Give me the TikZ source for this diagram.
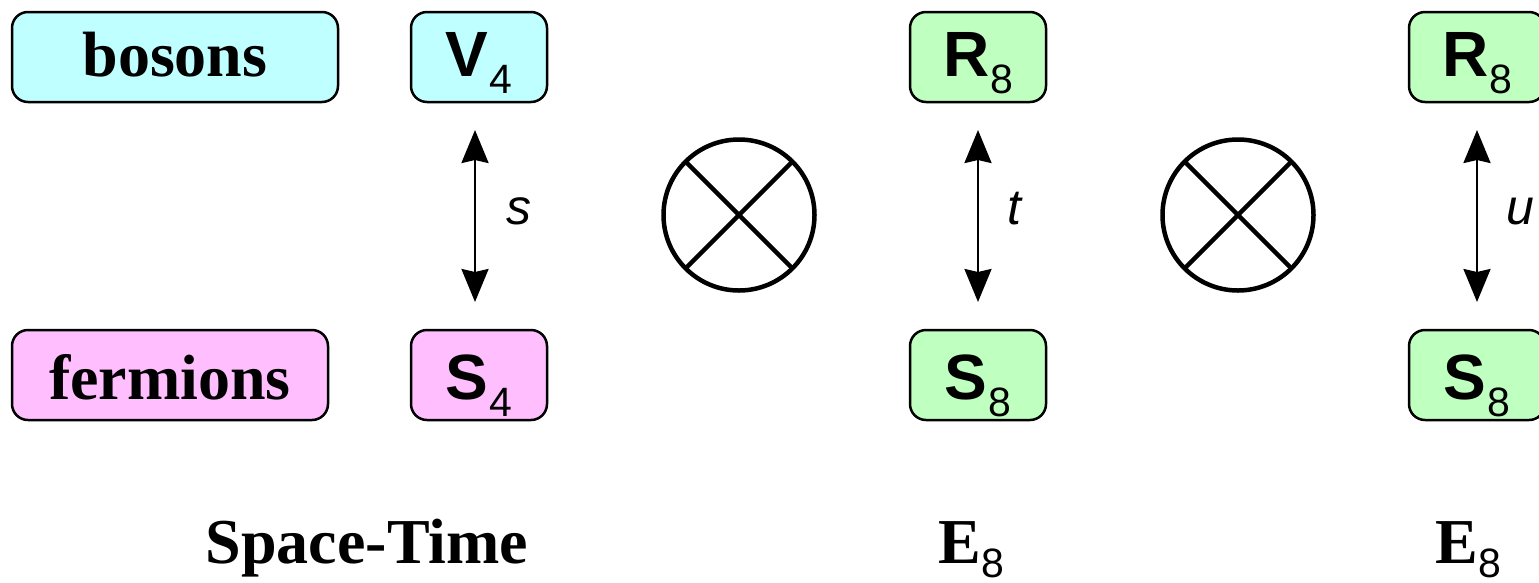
\documentclass[tikz,border=0pt]{standalone}
\usepackage{fontspec}
\setmainfont{Liberation Serif}
\setsansfont{Liberation Sans}
\usetikzlibrary{arrows.meta}
\definecolor{bcyan}{RGB}{191,255,255}
\definecolor{bpink}{RGB}{255,191,255}
\definecolor{bgreen}{RGB}{191,255,191}
\newcommand{\subsc}[2][17pt]{\kern1pt\raisebox{-#1}{\fontsize{41pt}{41pt}\selectfont\sffamily\mdseries #2}}
\begin{document}
\begin{tikzpicture}[x=1pt,y=-1pt,
  box/.style={draw, line width=2.5pt, rounded corners=16pt, minimum height=90pt,
    inner sep=0pt, outer sep=0pt, text depth=0pt},
  toprow/.style={box, text height=38pt},
  botrow/.style={box, text height=48pt},
  serifbig/.style={font=\fontsize{64pt}{70pt}\selectfont\bfseries},
  sansbig/.style={font=\fontsize{64pt}{70pt}\selectfont\sffamily\bfseries},
  lbl/.style={font=\fontsize{50pt}{55pt}\selectfont\sffamily\itshape, inner sep=0pt, anchor=base west},
  dbl/.style={line width=2.5pt, {Stealth[length=33pt,width=27pt,inset=3pt]}-{Stealth[length=33pt,width=27pt,inset=3pt]}, shorten <=28pt, shorten >=28pt},
  otimes/.style={circle, draw, line width=4.5pt, minimum size=151pt, inner sep=0pt, outer sep=0pt},
  crossline/.style={line width=4.5pt}
]
\useasboundingbox (0,0) rectangle (1539,582);

% boxes
\node[toprow, fill=bcyan, minimum width=326pt, serifbig] (bos) at (175,57) {bosons};
\node[toprow, fill=bcyan, minimum width=136pt, sansbig] (V4) at (479,57) {V\subsc{4}};
\node[botrow, fill=bpink, minimum width=316pt, serifbig] (fer) at (170,375) {fermions};
\node[botrow, fill=bpink, minimum width=136pt, sansbig] (S4) at (479,375) {S\subsc{4}};
\node[toprow, fill=bgreen, minimum width=136pt, sansbig] (R8a) at (978,57) {R\subsc{8}};
\node[botrow, fill=bgreen, minimum width=136pt, sansbig] (S8a) at (978,375) {S\subsc{8}};
\node[toprow, fill=bgreen, minimum width=136pt, sansbig] (R8b) at (1477,57) {R\subsc{8}};
\node[botrow, fill=bgreen, minimum width=136pt, sansbig] (S8b) at (1477,375) {S\subsc{8}};

% arrows
\draw[dbl] ([xshift=-4pt]V4.south) -- ([xshift=-4pt]S4.north)
  node[lbl, midway, xshift=30pt, yshift=-8pt] (ls) {s};
\draw[dbl] (R8a.south) -- (S8a.north)
  node[lbl, midway, xshift=28pt, yshift=-8pt] (lt) {t};
\draw[dbl] (R8b.south) -- (S8b.north)
  node[lbl, midway, xshift=28pt, yshift=-8pt] (lu) {u};

% tensor product symbols
\node[otimes] (ox1) at (739,215) {};
\draw[crossline] (ox1.north west) -- (ox1.south east);
\draw[crossline] (ox1.north east) -- (ox1.south west);
\node[otimes] (ox2) at (1238,215) {};
\draw[crossline] (ox2.north west) -- (ox2.south east);
\draw[crossline] (ox2.north east) -- (ox2.south west);

% bottom labels
\node[serifbig, anchor=base, inner sep=0pt] (st) at (367,563) {Space-Time};
\node[serifbig, anchor=base west, inner sep=0pt] (e8a) at (938,563) {E\subsc[14pt]{8}};
\node[serifbig, anchor=base west, inner sep=0pt] (e8b) at (1435,563) {E\subsc[14pt]{8}};
\end{tikzpicture}
\end{document}
